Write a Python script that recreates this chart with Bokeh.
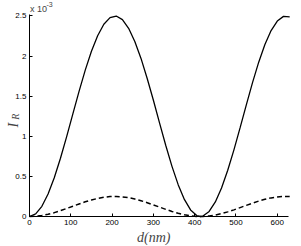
from bokeh.plotting import figure
from bokeh.models import Range1d, FixedTicker, Label, LinearAxis
from bokeh.embed import file_html
from bokeh.resources import INLINE

# thickness d (nm)
d = [0, 15, 30, 45, 60, 75, 90, 105, 120, 135, 150, 165, 180, 195, 210, 225,
     240, 255, 270, 285, 300, 315, 330, 345, 360, 375, 390, 405, 414, 420, 435,
     450, 465, 480, 495, 510, 525, 540, 555, 570, 585, 600, 615, 630]
# I_R, solid curve (units of 1e-3)
ir_solid = [0.0, 0.032, 0.127, 0.280, 0.484, 0.726, 0.996, 1.279, 1.560, 1.825,
            2.061, 2.254, 2.397, 2.479, 2.499, 2.454, 2.346, 2.183, 1.971, 1.721,
            1.449, 1.165, 0.885, 0.625, 0.397, 0.213, 0.082, 0.012, 0.0, 0.005,
            0.063, 0.182, 0.356, 0.577, 0.831, 1.108, 1.392, 1.669, 1.924, 2.144,
            2.318, 2.437, 2.495, 2.489]
# I_R, dashed curve (units of 1e-3)
ir_dashed = [0.0, 0.003, 0.013, 0.028, 0.048, 0.073, 0.100, 0.128, 0.156, 0.183,
             0.206, 0.225, 0.240, 0.248, 0.250, 0.245, 0.235, 0.218, 0.197, 0.172,
             0.145, 0.117, 0.089, 0.063, 0.040, 0.021, 0.008, 0.001, 0.0, 0.001,
             0.006, 0.018, 0.036, 0.058, 0.083, 0.111, 0.139, 0.167, 0.192, 0.214,
             0.232, 0.244, 0.250, 0.249]

x_ticks = [0, 100, 200, 300, 400, 500, 600]
y_ticks = [0, 0.5, 1, 1.5, 2, 2.5]
y_tick_labels = ["0", "0.5", "1", "1.5", "2", "2.5"]

p = figure(width=301, height=246, output_backend="svg", toolbar_location=None,
           x_range=Range1d(-70.2, 658.6), y_range=Range1d(-0.374, 2.693),
           min_border=0, x_axis_location=None, y_axis_location=None)
p.outline_line_color = None
p.xgrid.visible = False
p.ygrid.visible = False
p.background_fill_color = "white"
p.border_fill_color = "white"

p.line(d, ir_solid, line_color="black", line_width=1.3)
p.line(d, ir_dashed, line_color="black", line_width=1.5, line_dash="5 3")

xax = LinearAxis(fixed_location=0, bounds=(0, 628), ticker=FixedTicker(ticks=x_ticks))
yax = LinearAxis(fixed_location=0, bounds=(0, 2.52), ticker=FixedTicker(ticks=y_ticks))
yax.major_label_overrides = {t: s for t, s in zip(y_ticks, y_tick_labels)}
for ax in (xax, yax):
    ax.major_tick_in = 3
    ax.major_tick_out = 0
    ax.minor_tick_line_color = None
    ax.axis_line_color = "black"
    ax.major_tick_line_color = "black"
    ax.major_label_text_font = "Liberation Sans"
    ax.major_label_text_font_size = "8px"
    ax.major_label_text_color = "black"
    ax.major_label_standoff = 3
p.add_layout(xax, "below")
p.add_layout(yax, "left")

# axis titles
p.add_layout(Label(x=301, y=-0.262, text="d(nm)", text_font="Liberation Serif",
                   text_font_style="italic", text_font_size="14px",
                   text_align="center", text_baseline="alphabetic"))
p.add_layout(Label(x=-38, y=1.11, text="I", text_font="Liberation Serif",
                   text_font_style="italic", text_font_size="14px", angle=1.5708,
                   text_align="left", text_baseline="alphabetic"))
p.add_layout(Label(x=-34, y=1.205, text="R", text_font="Liberation Serif",
                   text_font_style="italic", text_font_size="10px", angle=1.5708,
                   text_align="left", text_baseline="alphabetic"))
p.add_layout(Label(x=1, y=2.581, text="x 10", text_font="Liberation Sans",
                   text_font_size="9px", text_align="left", text_baseline="alphabetic"))
p.add_layout(Label(x=41, y=2.643, text="-3", text_font="Liberation Sans",
                   text_font_size="7px", text_align="left", text_baseline="alphabetic"))

open("out.html", "w").write(file_html(p, INLINE))
